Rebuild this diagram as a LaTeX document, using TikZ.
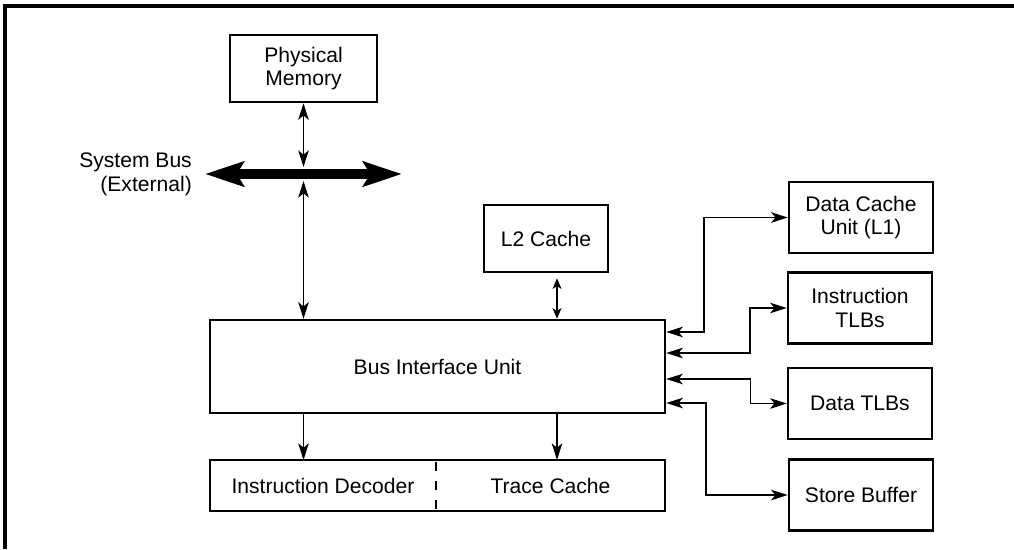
\documentclass[tikz,border=0pt]{standalone}
\usepackage{fontspec}
\setmainfont{Liberation Sans}
\usetikzlibrary{positioning,arrows.meta,calc}

\begin{document}
\begin{tikzpicture}[x=0.02cm, y=-0.02cm, >={Stealth[length=9.5pt,width=6pt,inset=2.5pt]},
    every node/.style={font=\fontsize{12}{13.6}\selectfont, align=center},
    unit/.style={draw, line width=1.4pt, inner sep=0pt},
    half/.style={inner sep=0pt, outer sep=0pt, minimum height=1.02cm},
    thin link/.style={<->, line width=0.6pt},
    thick link/.style={<->, line width=1.1pt}]
  \useasboundingbox (0,0) rectangle (1014,549);
  \draw[line width=2.3pt] (5,549) -- (5,6) -- (1014,6);

  % memory and external bus
  \node[unit, minimum width=2.94cm, minimum height=1.34cm] (pm) at (303.5,68.5) {Physical\\Memory};
  \coordinate (busW) at (205,174);
  \coordinate (busE) at (402,174);
  \coordinate (busN) at (303.5,167);
  \coordinate (busS) at (303.5,181);
  \draw[line width=5.6pt, {Stealth[length=22pt,width=14pt,inset=4pt]}-{Stealth[length=22pt,width=14pt,inset=4pt]}] (busW) -- (busE);
  \node[anchor=east, align=right] (buslbl) at (198,174) {System Bus\\(External)};

  % core units
  \node[unit, minimum width=2.48cm, minimum height=1.34cm] (l2) at (546,238.5) {L2 Cache};
  \node[unit, minimum width=9.1cm, minimum height=1.86cm] (biu) at (437.5,366.5) {Bus Interface Unit};
  \node[half, minimum width=4.52cm] (dec) at (323,485.5) {Instruction Decoder};
  \node[half, minimum width=4.58cm] (tc) at (550.5,485.5) {Trace Cache};
  \draw[line width=1.4pt] (dec.north west) rectangle (tc.south east);
  \draw[line width=0.6pt, dash pattern=on 5pt off 6pt, dash phase=-1pt] (dec.north east) -- (dec.south east);

  % side units
  \node[unit, minimum width=2.88cm, minimum height=1.42cm] (dcu) at (861,217.5) {Data Cache\\Unit (L1)};
  \node[unit, minimum width=2.88cm, minimum height=1.42cm] (itlb) at (860,308) {Instruction\\TLBs};
  \node[unit, minimum width=2.88cm, minimum height=1.42cm] (dtlb) at (860,403.5) {Data TLBs};
  \node[unit, minimum width=2.88cm, minimum height=1.42cm] (sb) at (861,495) {Store Buffer};

  \draw[thin link] (pm.south) -- (busN);
  \draw[thin link] (busS) -- (busS |- biu.north);
  \draw[<->, line width=1.1pt, >={Stealth[length=6pt,width=5pt,inset=1.5pt]}] (557,0 |- l2.south) ++(0,5) -- (557,0 |- biu.north);
  \draw[thin link, <-] (busS |- dec.north) -- (busS |- biu.south);
  \draw[thin link, <-] (557,0 |- tc.north) -- (557,0 |- biu.south);

  \draw[thick link] ($(biu.east)+(0,-34.5)$) -- ++(38,0) |- (dcu.west);
  \draw[thick link] ($(biu.east)+(0,-13.5)$) -- ++(84,0) |- (itlb.west);
  \draw[thin link] ($(biu.east)+(0,12.5)$) -- ++(84,0) |- (dtlb.west);
  \draw[thick link] ($(biu.east)+(0,36.5)$) -- ++(40,0) |- (sb.west);
\end{tikzpicture}
\end{document}
